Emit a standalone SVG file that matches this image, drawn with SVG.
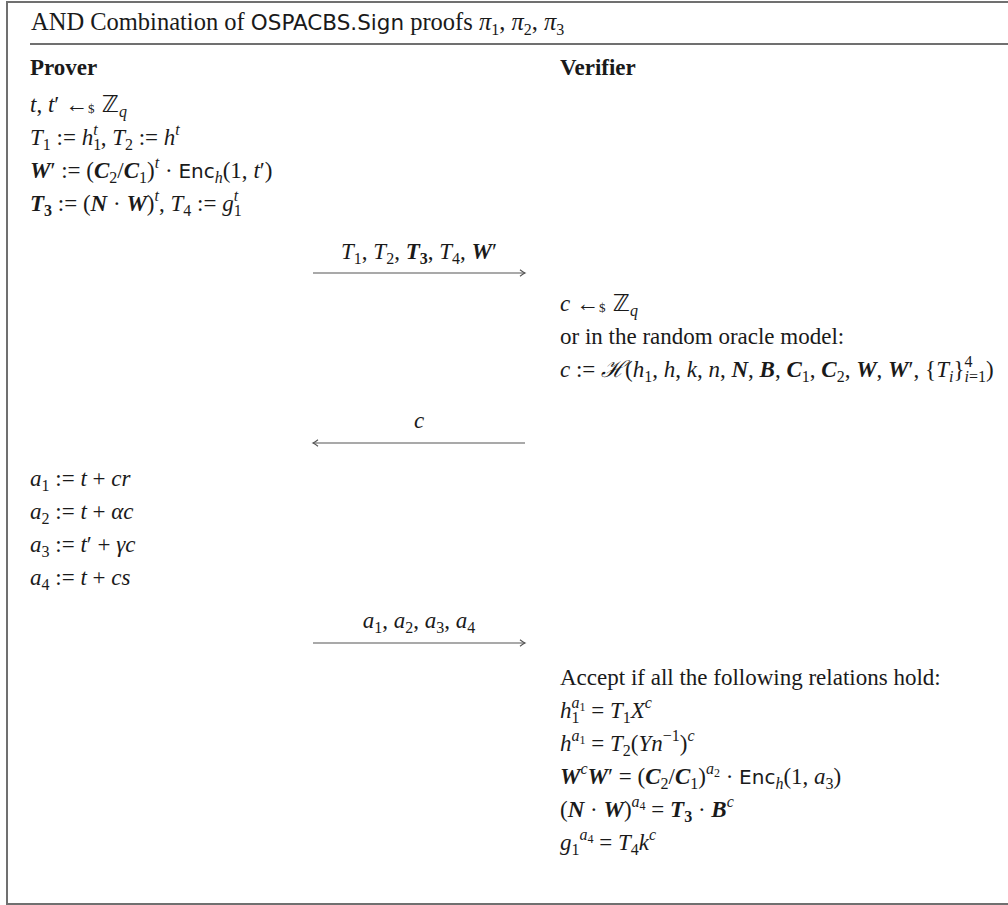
<svg xmlns="http://www.w3.org/2000/svg" width="1008" height="905" viewBox="0 0 1008 905">
<style>
.t{font-family:"Liberation Serif","DejaVu Serif",serif;font-size:23px;fill:#1a1a1a}
.title{font-size:24.5px}
.i{font-style:italic}
.b{font-style:italic;font-weight:bold}
.hd{font-weight:bold}
.s{font-size:16px}
.ss{font-size:12px}
.sf{font-family:"DejaVu Sans",sans-serif;font-size:20px}
.sft{font-family:"DejaVu Sans",sans-serif;font-size:21.5px}
.bb{font-family:"DejaVu Sans",sans-serif}
.cal{font-family:"DejaVu Serif",serif;font-style:italic}
.frame{fill:none;stroke:#707070;stroke-width:2}
.msg{stroke:#555;stroke-width:1.2;fill:none}
</style>
<defs>
<marker id="ah" markerUnits="userSpaceOnUse" markerWidth="10" markerHeight="10" refX="7" refY="5" orient="auto">
<path d="M2,1.8 Q5,4.2 7,5 Q5,5.8 2,8.2" fill="none" stroke="#555" stroke-width="1.1"/>
</marker>
</defs>
<g id="frame">
<rect class="frame" x="7" y="2" width="1012" height="902"/>
<line x1="30" y1="44" x2="1008" y2="44" stroke="#707070" stroke-width="2"/>
<text class="t title" x="31" y="30">AND Combination of <tspan class="sft">OSPACBS.Sign</tspan> proofs <tspan class="i">π</tspan><tspan class="s" dy="5">1</tspan><tspan dy="-5">, </tspan><tspan class="i">π</tspan><tspan class="s" dy="5">2</tspan><tspan dy="-5">, </tspan><tspan class="i">π</tspan><tspan class="s" dy="5">3</tspan></text>
</g>
<g id="prover">
<text class="t hd" x="30" y="75">Prover</text>
<text class="t" x="30" y="112"><tspan class="i">t</tspan>, <tspan class="i">t</tspan>′ ←<tspan font-size="13" dy="1">$</tspan><tspan class="bb" dy="-1"> ℤ</tspan><tspan class="s i" dy="5">q</tspan></text>
<text class="t" x="30" y="145"><tspan class="i">T</tspan><tspan class="s" dy="5">1</tspan><tspan dy="-5"> := </tspan><tspan class="i">h</tspan><tspan class="s" dy="5">1</tspan><tspan class="s i" dx="-8" dy="-15">t</tspan><tspan dx="3" dy="10">, </tspan><tspan class="i">T</tspan><tspan class="s" dy="5">2</tspan><tspan dy="-5"> := </tspan><tspan class="i">h</tspan><tspan class="s i" dy="-10">t</tspan></text>
<text class="t" x="30" y="178"><tspan class="b">W</tspan>′ := (<tspan class="b">C</tspan><tspan class="s" dy="5">2</tspan><tspan dy="-5">/</tspan><tspan class="b">C</tspan><tspan class="s" dy="5">1</tspan><tspan dy="-5">)</tspan><tspan class="s i" dy="-10">t</tspan><tspan dy="10"> · </tspan><tspan class="sf">Enc</tspan><tspan class="s i" dy="5">h</tspan><tspan dy="-5">(1, </tspan><tspan class="i">t</tspan>′)</text>
<text class="t" x="30" y="211"><tspan class="b">T</tspan><tspan class="s hd" dy="5">3</tspan><tspan dy="-5"> := (</tspan><tspan class="b">N</tspan> · <tspan class="b">W</tspan>)<tspan class="s i" dy="-10">t</tspan><tspan dy="10">, </tspan><tspan class="i">T</tspan><tspan class="s" dy="5">4</tspan><tspan dy="-5"> := </tspan><tspan class="i">g</tspan><tspan class="s" dy="5">1</tspan><tspan class="s i" dx="-8" dy="-15">t</tspan></text>
<text class="t" x="30" y="486"><tspan class="i">a</tspan><tspan class="s" dy="5">1</tspan><tspan dy="-5"> := </tspan><tspan class="i">t</tspan> + <tspan class="i">cr</tspan></text>
<text class="t" x="30" y="519"><tspan class="i">a</tspan><tspan class="s" dy="5">2</tspan><tspan dy="-5"> := </tspan><tspan class="i">t</tspan> + <tspan class="i">αc</tspan></text>
<text class="t" x="30" y="552"><tspan class="i">a</tspan><tspan class="s" dy="5">3</tspan><tspan dy="-5"> := </tspan><tspan class="i">t</tspan>′ + <tspan class="i">γc</tspan></text>
<text class="t" x="30" y="585"><tspan class="i">a</tspan><tspan class="s" dy="5">4</tspan><tspan dy="-5"> := </tspan><tspan class="i">t</tspan> + <tspan class="i">cs</tspan></text>
</g>
<g id="verifier">
<text class="t hd" x="560" y="75">Verifier</text>
<text class="t" x="560" y="311"><tspan class="i">c</tspan> ←<tspan font-size="13" dy="1">$</tspan><tspan class="bb" dy="-1"> ℤ</tspan><tspan class="s i" dy="5">q</tspan></text>
<text class="t" x="560" y="344">or in the random oracle model:</text>
<text class="t" x="560" y="377"><tspan class="i">c</tspan> := <tspan class="cal">ℋ</tspan>(<tspan class="i">h</tspan><tspan class="s" dy="5">1</tspan><tspan dy="-5">, </tspan><tspan class="i">h</tspan>, <tspan class="i">k</tspan>, <tspan class="i">n</tspan>, <tspan class="b">N</tspan>, <tspan class="b">B</tspan>, <tspan class="b">C</tspan><tspan class="s" dy="5">1</tspan><tspan dy="-5">, </tspan><tspan class="b">C</tspan><tspan class="s" dy="5">2</tspan><tspan dy="-5">, </tspan><tspan class="b">W</tspan>, <tspan class="b">W</tspan>′, {<tspan class="i">T</tspan><tspan class="s i" dy="5">i</tspan><tspan dy="-5">}</tspan><tspan class="s" dy="-10">4</tspan><tspan class="s i" dx="-8" dy="15">i</tspan><tspan class="s">=1</tspan><tspan dy="-5">)</tspan></text>
<text class="t" x="560" y="685">Accept if all the following relations hold:</text>
<text class="t" x="560" y="718"><tspan class="i">h</tspan><tspan class="s" dy="5">1</tspan><tspan class="s i" dx="-8" dy="-15">a</tspan><tspan class="ss" dy="3">1</tspan><tspan dy="7"> = </tspan><tspan class="i">T</tspan><tspan class="s" dy="5">1</tspan><tspan class="i" dy="-5">X</tspan><tspan class="s i" dy="-10">c</tspan></text>
<text class="t" x="560" y="751"><tspan class="i">h</tspan><tspan class="s i" dy="-10">a</tspan><tspan class="ss" dy="3">1</tspan><tspan dy="7"> = </tspan><tspan class="i">T</tspan><tspan class="s" dy="5">2</tspan><tspan dy="-5">(</tspan><tspan class="i">Yn</tspan><tspan class="s" dy="-10">−1</tspan><tspan dy="10">)</tspan><tspan class="s i" dy="-10">c</tspan></text>
<text class="t" x="560" y="784"><tspan class="b">W</tspan><tspan class="s i" dy="-10">c</tspan><tspan class="b" dy="10">W</tspan>′ = (<tspan class="b">C</tspan><tspan class="s" dy="5">2</tspan><tspan dy="-5">/</tspan><tspan class="b">C</tspan><tspan class="s" dy="5">1</tspan><tspan dy="-5">)</tspan><tspan class="s i" dy="-10">a</tspan><tspan class="ss" dy="3">2</tspan><tspan dy="7"> · </tspan><tspan class="sf">Enc</tspan><tspan class="s i" dy="5">h</tspan><tspan dy="-5">(1, </tspan><tspan class="i">a</tspan><tspan class="s" dy="5">3</tspan><tspan dy="-5">)</tspan></text>
<text class="t" x="560" y="817">(<tspan class="b">N</tspan> · <tspan class="b">W</tspan>)<tspan class="s i" dy="-10">a</tspan><tspan class="ss" dy="3">4</tspan><tspan dy="7"> = </tspan><tspan class="b">T</tspan><tspan class="s hd" dy="5">3</tspan><tspan dy="-5"> · </tspan><tspan class="b">B</tspan><tspan class="s i" dy="-10">c</tspan></text>
<text class="t" x="560" y="850"><tspan class="i">g</tspan><tspan class="s" dy="5">1</tspan><tspan class="s i" dy="-15">a</tspan><tspan class="ss" dy="3">4</tspan><tspan dy="7"> = </tspan><tspan class="i">T</tspan><tspan class="s" dy="5">4</tspan><tspan class="i" dy="-5">k</tspan><tspan class="s i" dy="-10">c</tspan></text>
</g>
<g id="connectors">
<line class="msg" x1="313" y1="273" x2="525" y2="273" marker-end="url(#ah)"/>
<text class="t" x="419" y="259" text-anchor="middle"><tspan class="i">T</tspan><tspan class="s" dy="5">1</tspan><tspan dy="-5">, </tspan><tspan class="i">T</tspan><tspan class="s" dy="5">2</tspan><tspan dy="-5">, </tspan><tspan class="b">T</tspan><tspan class="s hd" dy="5">3</tspan><tspan dy="-5">, </tspan><tspan class="i">T</tspan><tspan class="s" dy="5">4</tspan><tspan dy="-5">, </tspan><tspan class="b">W</tspan>′</text>
<line class="msg" x1="525" y1="443" x2="313" y2="443" marker-end="url(#ah)"/>
<text class="t i" x="419" y="428" text-anchor="middle">c</text>
<line class="msg" x1="313" y1="643" x2="525" y2="643" marker-end="url(#ah)"/>
<text class="t" x="419" y="628" text-anchor="middle"><tspan class="i">a</tspan><tspan class="s" dy="5">1</tspan><tspan dy="-5">, </tspan><tspan class="i">a</tspan><tspan class="s" dy="5">2</tspan><tspan dy="-5">, </tspan><tspan class="i">a</tspan><tspan class="s" dy="5">3</tspan><tspan dy="-5">, </tspan><tspan class="i">a</tspan><tspan class="s" dy="5">4</tspan></text>
</g>
</svg>
